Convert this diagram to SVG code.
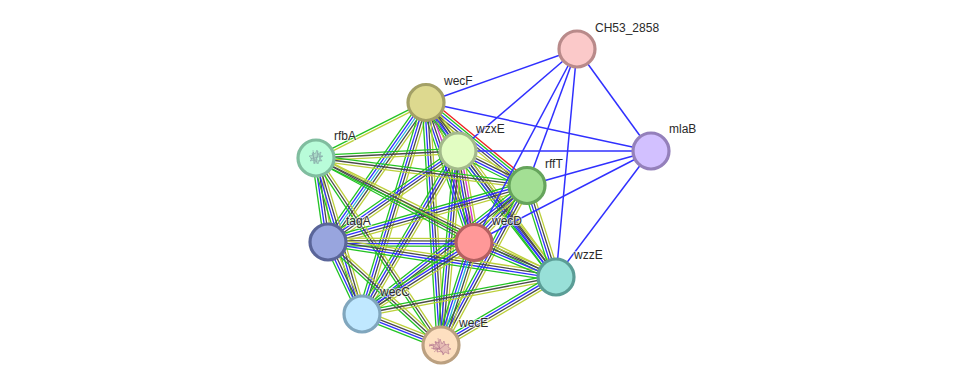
<svg xmlns="http://www.w3.org/2000/svg" width="976" height="390" viewBox="0 0 976 390">
<style>
text{font-family:"Liberation Sans",Arial,sans-serif;font-size:12px;fill:#2a2a2a;paint-order:stroke;stroke:#fff;stroke-width:2px;stroke-opacity:.6}
.n{stroke-width:3.2}
.t line{vector-effect:non-scaling-stroke;stroke-width:1.3;fill:none}
.g{stroke:#22c322}.y{stroke:#bccf3a}.b{stroke:#2f2fff}.k{stroke:#4a4a4a}.c{stroke:#22b6d4}.m{stroke:#d22fd2}.r{stroke:#f02020}
.s{stroke:#3030ff;stroke-width:1.5}
</style>
<defs>
<g id="gy" class="t"><line class="g" x2="1" y1="1.3" y2="1.3"/><line class="y" x2="1" y1="-1.3" y2="-1.3"/></g>
<g id="gky" class="t"><line class="g" x2="1" y1="2.6" y2="2.6"/><line class="k" x2="1"/><line class="y" x2="1" y1="-2.6" y2="-2.6"/></g>
<g id="gbky" class="t"><line class="g" x2="1" y1="3.9" y2="3.9"/><line class="b" x2="1" y1="1.3" y2="1.3"/><line class="k" x2="1" y1="-1.3" y2="-1.3"/><line class="y" x2="1" y1="-3.9" y2="-3.9"/></g>
<g id="gbcky" class="t"><line class="g" x2="1" y1="5" y2="5"/><line class="b" x2="1" y1="2.5" y2="2.5"/><line class="c" x2="1"/><line class="k" x2="1" y1="-2.5" y2="-2.5"/><line class="y" x2="1" y1="-5" y2="-5"/></g>
<g id="gbkmy" class="t"><line class="g" x2="1" y1="5" y2="5"/><line class="b" x2="1" y1="2.5" y2="2.5"/><line class="k" x2="1"/><line class="m" x2="1" y1="-2.5" y2="-2.5"/><line class="y" x2="1" y1="-5" y2="-5"/></g>
<g id="rgbky" class="t"><line class="y" x2="1" y1="5" y2="5"/><line class="k" x2="1" y1="2.5" y2="2.5"/><line class="b" x2="1"/><line class="g" x2="1" y1="-2.5" y2="-2.5"/><line class="r" x2="1" y1="-5" y2="-5"/></g>
</defs>
<g id="connectors">
<use href="#gy" transform="matrix(-110 55.5 -.45 -.893 426 102.5)"/>
<use href="#gbky" transform="matrix(32 48.5 -.835 .551 426 102.5)"/>
<use href="#rgbky" transform="matrix(101 83 -.635 .773 426 102.5)"/>
<use href="#gbcky" transform="matrix(-98 139.5 -.818 -.575 426 102.5)"/>
<use href="#gbkmy" transform="matrix(48 140 -.946 .324 426 102.5)"/>
<use href="#gbky" transform="matrix(130 174.5 -.802 .597 426 102.5)"/>
<use href="#gbky" transform="matrix(-64 211.5 -.957 -.29 426 102.5)"/>
<use href="#gbky" transform="matrix(15 242.5 -.998 .062 426 102.5)"/>
<use href="#gbky" transform="matrix(69 34.5 -.447 .895 458 151)"/>
<use href="#gky" transform="matrix(-142 7 -.049 -.999 458 151)"/>
<use href="#gbky" transform="matrix(-130 91 -.573 -.819 458 151)"/>
<use href="#gbkmy" transform="matrix(16 91.5 -.985 .172 458 151)"/>
<use href="#gbky" transform="matrix(98 126 -.789 .614 458 151)"/>
<use href="#gbky" transform="matrix(-96 163 -.862 -.507 458 151)"/>
<use href="#gbky" transform="matrix(-17 194 -.996 -.087 458 151)"/>
<use href="#gky" transform="matrix(-211 -27.5 .129 -.992 527 185.5)"/>
<use href="#gbky" transform="matrix(-199 56.5 -.273 -.962 527 185.5)"/>
<use href="#gbky" transform="matrix(-53 57 -.732 -.681 527 185.5)"/>
<use href="#gbky" transform="matrix(29 91.5 -.953 .302 527 185.5)"/>
<use href="#gbky" transform="matrix(-165 128.5 -.615 -.789 527 185.5)"/>
<use href="#gbky" transform="matrix(-86 159.5 -.88 -.475 527 185.5)"/>
<use href="#gbky" transform="matrix(12 84 -.99 .141 316 158)"/>
<use href="#gky" transform="matrix(158 84.5 -.472 .882 316 158)"/>
<use href="#gky" transform="matrix(240 119 -.444 .896 316 158)"/>
<use href="#gbky" transform="matrix(46 156 -.959 .283 316 158)"/>
<use href="#gky" transform="matrix(125 187 -.831 .556 316 158)"/>
<use href="#gbky" transform="matrix(146 .5 -.003 1 328 242)"/>
<use href="#gbky" transform="matrix(228 35 -.152 .988 328 242)"/>
<use href="#gbky" transform="matrix(34 72 -.904 .427 328 242)"/>
<use href="#gky" transform="matrix(113 103 -.674 .739 328 242)"/>
<use href="#gbky" transform="matrix(82 34.5 -.388 .921 474 242.5)"/>
<use href="#gbky" transform="matrix(-112 71.5 -.538 -.843 474 242.5)"/>
<use href="#gbcky" transform="matrix(-33 102.5 -.952 -.306 474 242.5)"/>
<use href="#gky" transform="matrix(-194 37 -.187 -.982 556 277)"/>
<use href="#gbky" transform="matrix(-115 68 -.509 -.861 556 277)"/>
<use href="#gbky" transform="matrix(79 31 -.365 .931 362 314)"/>
<line class="s" x1="577" y1="49" x2="426" y2="102.5"/>
<line class="s" x1="577" y1="49" x2="458" y2="151"/>
<line class="s" x1="577" y1="49" x2="527" y2="185.5"/>
<line class="s" x1="577" y1="49" x2="474" y2="242.5"/>
<line class="s" x1="577" y1="49" x2="556" y2="277"/>
<line class="s" x1="577" y1="49" x2="651" y2="151"/>
<line class="s" x1="651" y1="151" x2="426" y2="102.5"/>
<line class="s" x1="651" y1="151" x2="458" y2="151"/>
<line class="s" x1="651" y1="151" x2="527" y2="185.5"/>
<line class="s" x1="651" y1="151" x2="474" y2="242.5"/>
<line class="s" x1="651" y1="151" x2="556" y2="277"/>
</g>
<g id="CH53_2858"><circle class="n" cx="577" cy="49" r="18" fill="#fbc9c9" stroke="#b98a8a"/><text x="595" y="32">CH53_2858</text></g>
<g id="mlaB"><circle class="n" cx="651" cy="151" r="18" fill="#d2c0ff" stroke="#9480bb"/><text x="669" y="133">mlaB</text></g>
<g id="wecF"><circle class="n" cx="426" cy="102.5" r="18" fill="#ddd98f" stroke="#a3a066"/><text x="444" y="85">wecF</text></g>
<g id="wzxE"><circle class="n" cx="458" cy="151" r="18" fill="#e2fdc2" stroke="#a3ba8b"/><text x="476" y="133">wzxE</text></g>
<g id="rffT"><circle class="n" cx="527" cy="185.5" r="18" fill="#a3df94" stroke="#66a45c"/><text x="545" y="168">rffT</text></g>
<g id="rfbA"><circle class="n" cx="316" cy="158" r="18" fill="#b8fcd9" stroke="#80bd9f"/>
<path d="M309 156l3 3-2 2 4-1 0 4 2-3 2 3 1-4 3 1-2-3 3-2-3 0 1-4-3 2-1-4-2 4-2-2 0 3zM312 153l3 8 4-7 1 8M310 159l12-3M313 150l1 13M318 151l-2 13" fill="#9ab8b4" fill-opacity=".5" stroke="#7f9ca0" stroke-width=".5"/>
<text x="334" y="140">rfbA</text></g>
<g id="tagA"><circle class="n" cx="328" cy="242" r="18" fill="#98a5de" stroke="#5a6599"/><text x="346" y="225">tagA</text></g>
<g id="wecD"><circle class="n" cx="474" cy="242.5" r="18" fill="#ff9898" stroke="#b46060"/><text x="492" y="225">wecD</text></g>
<g id="wzzE"><circle class="n" cx="556" cy="277" r="18" fill="#98e0d8" stroke="#5b9d96"/><text x="574" y="259">wzzE</text></g>
<g id="wecC"><circle class="n" cx="362" cy="314" r="18" fill="#c0e8ff" stroke="#80a6bd"/><text x="380" y="296">wecC</text></g>
<g id="wecE"><circle class="n" cx="441" cy="345" r="18" fill="#fddfc0" stroke="#bba080"/>
<path d="M429 346l5-1-1 4 5 0-1 3 5-1 1 4 2-3 4 2-1-4 3-1-3-2 1-3-4 1-1-4-2 3-2-5-1 4-4-1 1 3-4-1zM431 348l8 1 5 5M435 341l5 8 6-5M434 352l6-5M438 338l2 12M429 344l10 5" fill="#cf9aa8" fill-opacity=".5" stroke="#ab6a88" stroke-width=".5"/>
<text x="459" y="327">wecE</text></g>
</svg>
